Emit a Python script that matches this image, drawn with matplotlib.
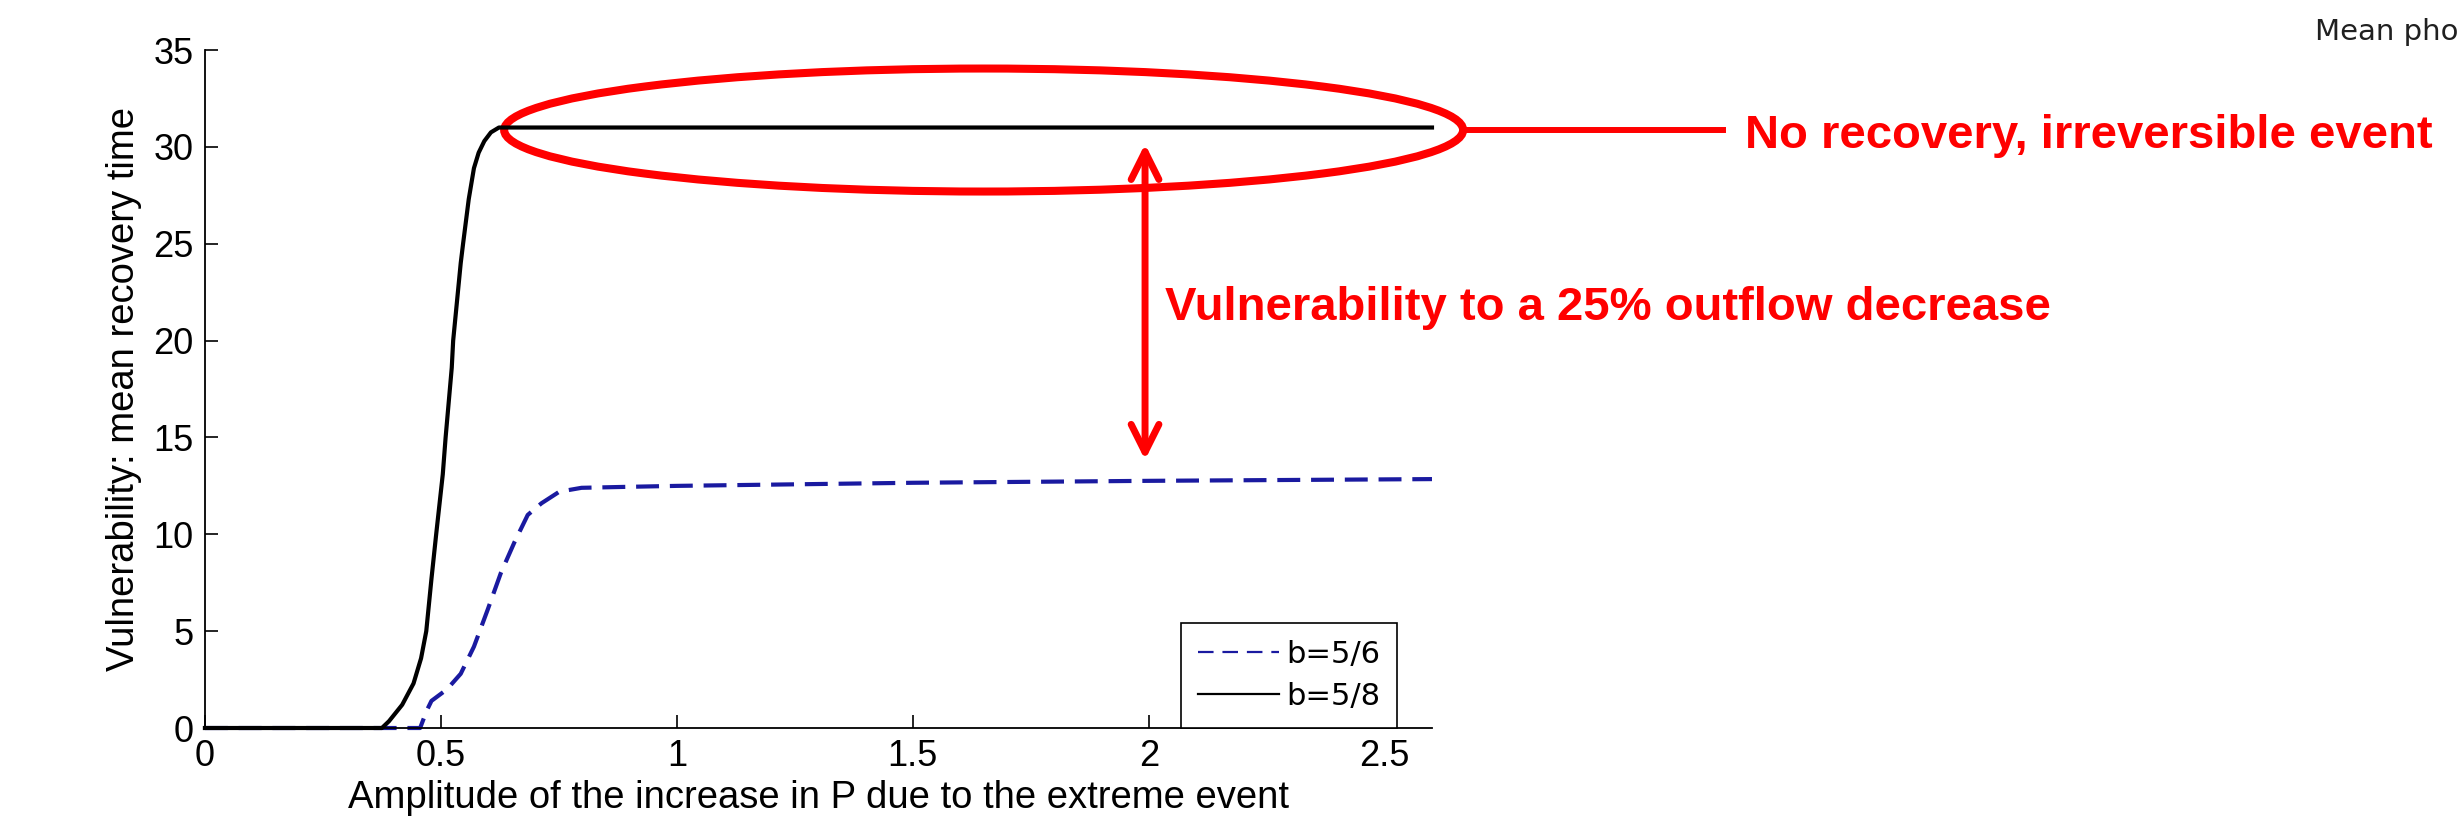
import numpy as np
import matplotlib.pyplot as plt
from matplotlib.patches import Ellipse
from matplotlib.lines import Line2D

# curves
amp_56 = [0, 0.456, 0.47, 0.48, 0.513, 0.542, 0.570, 0.599, 0.627, 0.656, 0.684,
          0.713, 0.751, 0.798, 0.894, 1.0, 1.5, 2.0, 2.6]
vul_56 = [0, 0, 0.9, 1.4, 2.0, 2.8, 4.2, 6.1, 8.0, 9.6, 11.0,
          11.6, 12.2, 12.4, 12.45, 12.5, 12.66, 12.76, 12.85]

amp_58 = [0, 0.375, 0.390, 0.418, 0.442, 0.458, 0.469, 0.480, 0.490, 0.504, 0.510,
          0.523, 0.526, 0.542, 0.547, 0.559, 0.570, 0.580, 0.592, 0.606, 0.623, 1.0, 1.5, 2.0, 2.6]
vul_58 = [0, 0, 0.35, 1.2, 2.3, 3.6, 5, 7.7, 10, 13.1, 15,
          18.6, 20, 24, 25, 27.3, 28.9, 29.7, 30.3, 30.75, 31, 31, 31, 31, 31]

labels = ['b=5/6', 'b=5/8']
xticks = [0, 0.5, 1, 1.5, 2, 2.5]
xticklabels = ['0', '0.5', '1', '1.5', '2', '2.5']
yticks = [0, 5, 10, 15, 20, 25, 30, 35]

BLUE = '#1a1aa0'
RED = '#ff0000'

plt.rcParams['font.family'] = ['Liberation Sans', 'DejaVu Sans']

fig = plt.figure(figsize=(24.63, 8.27), dpi=100)
ax = fig.add_axes([0.0832, 0.1197, 0.4982, 0.8198])

ax.plot(amp_56, vul_56, color=BLUE, lw=3, dashes=(5.5, 2.6), clip_on=False)
ax.plot(amp_58, vul_58, color='black', lw=3, clip_on=False)

ax.set_xlim(0, 2.6)
ax.set_ylim(0, 35)
ax.set_xticks(xticks)
ax.set_xticklabels(xticklabels)
ax.set_yticks(yticks)
for s in ['top', 'right']:
    ax.spines[s].set_visible(False)
for s in ['left', 'bottom']:
    ax.spines[s].set_linewidth(1.3)
ax.tick_params(direction='in', length=9.5, width=1.2, labelsize=26)
ax.tick_params(axis='x', pad=8)
ax.tick_params(axis='y', pad=8)
ax.set_xlabel('Amplitude of the increase in P due to the extreme event', fontsize=27.5, labelpad=4)
ax.set_ylabel('Vulnerability: mean recovery time', fontsize=27.5, labelpad=8)

# legend
h1 = Line2D([], [], color=BLUE, lw=1.6, dashes=(7, 4))
h2 = Line2D([], [], color='black', lw=1.6)
leg = ax.legend([h1, h2], labels, loc='lower right', bbox_to_anchor=(0.9715, 0.0),
                prop={'family': 'DejaVu Sans', 'size': 22}, frameon=True, fancybox=False,
                edgecolor='black', framealpha=1, handlelength=2.65, handletextpad=0.23,
                borderpad=0.56, labelspacing=0.42, borderaxespad=0)
leg.get_frame().set_linewidth(1.2)

# red annotations
ell = Ellipse((1.650, 30.87), 2.032, 6.35, fill=False, edgecolor=RED, lw=5.8, clip_on=False)
ax.add_patch(ell)
ax.plot([2.666, 3.217], [30.87, 30.87], color=RED, lw=4.3, clip_on=False)
ax.text(3.264, 29.94, 'No recovery, irreversible event', color=RED, fontsize=34,
        fontweight='bold', va='baseline', ha='left', clip_on=False)
ax.annotate('', xy=(1.992, 30.15), xytext=(1.992, 13.84),
            arrowprops=dict(arrowstyle='<->,head_length=1.0,head_width=0.5', color=RED,
                            lw=5, mutation_scale=20, shrinkA=0, shrinkB=0),
            annotation_clip=False)
ax.text(2.034, 21.06, 'Vulnerability to a 25% outflow decrease', color=RED, fontsize=34,
        fontweight='bold', va='baseline', ha='left', clip_on=False)

fig.text(2315 / 2463, 1 - 40 / 827, 'Mean pho', fontsize=21, color='#202020',
         family='DejaVu Sans', va='baseline', ha='left')

fig.savefig('out.png', dpi=100)
